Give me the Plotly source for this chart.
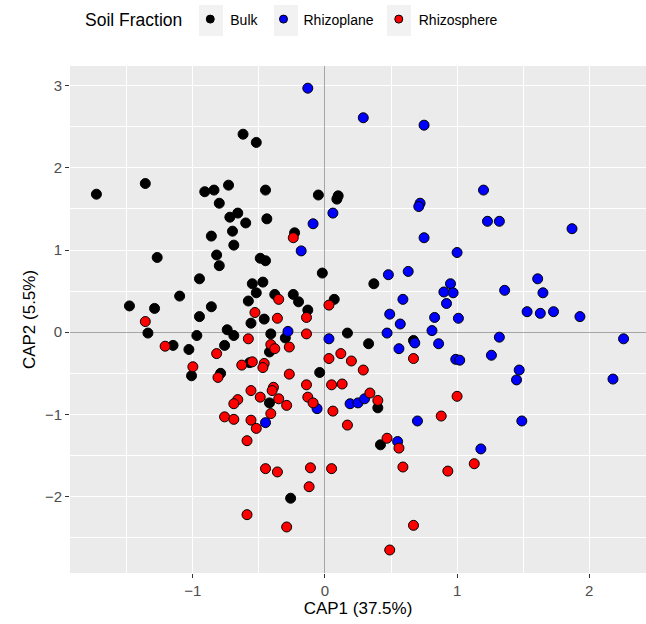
import plotly.graph_objects as go

bulk_x = [-0.62, -0.52, -1.73, -1.36, -0.91, -0.84, -0.73, -0.80, -0.66, -0.72, -0.60, -0.70, -0.86,
          -0.45, -0.05, 0.10, 0.09, -0.44, -0.23, -0.69, -1.27, -0.82, -0.80, -0.95, -0.55, -0.49,
          -0.52, -1.10, -0.58, -1.48, -1.29, -0.86, -0.95, -0.56, -1.34, -0.97, -0.74, -0.69, -1.15,
          -0.76, -1.03, -0.57, -1.01, -0.79, -0.45, -0.02, 0.37, -0.47, -0.38, -0.24, -0.20, 0.07,
          -0.13, -0.46, 0.17, 0.33, 0.67, -0.41, -0.30, -0.42, -0.04, -0.42, 0.40, 0.42, -0.26]
bulk_y = [2.41, 2.31, 1.68, 1.81, 1.71, 1.73, 1.79, 1.57, 1.45, 1.40, 1.33, 1.23, 1.17,
          1.73, 1.67, 1.66, 1.62, 1.38, 1.21, 1.06, 0.91, 0.94, 0.81, 0.65, 0.59, 0.90,
          0.48, 0.44, 0.38, 0.32, 0.29, 0.31, 0.19, 0.11, -0.01, -0.04, 0.03, -0.04, -0.16,
          -0.16, -0.21, -0.37, -0.53, -0.50, 0.87, 0.72, 0.59, 0.61, 0.46, 0.46, 0.37, 0.40,
          0.27, 0.16, -0.01, -0.14, -0.10, -0.02, -0.07, -0.24, -0.49, -0.86, -0.92, -1.37, -2.02]

rhizoplane_x = [-0.13, 0.29, 0.75, 0.72, 0.71, 0.06, -0.09, 0.75, 1.20, 1.23, 1.32, 1.87, -0.18,
                0.48, 0.63, 0.95, 0.90, 0.97, 0.92, 0.59, 0.49, 0.57, 0.83, 0.81, 0.47, 0.68,
                0.86, 0.56, -0.28, 0.03, -0.06, 0.19, 0.25, 0.30, 1.00, 1.61, 1.36, 1.65, 1.53,
                1.63, 1.73, 1.93, 1.01, 1.32, 2.26, 0.99, 1.02, 1.26, 1.47, 1.45, 2.18, -0.45,
                0.70, 0.55, 1.49, 1.18]
rhizoplane_y = [2.97, 2.61, 2.52, 1.57, 1.53, 1.45, 1.32, 1.15, 1.73, 1.35, 1.35, 1.26, 0.99,
                0.70, 0.74, 0.59, 0.49, 0.48, 0.35, 0.40, 0.22, 0.10, 0.18, 0.02, -0.01, -0.13,
                -0.14, -0.20, 0.01, -0.08, -0.93, -0.87, -0.86, -0.81, 0.97, 0.65, 0.51, 0.48, 0.25,
                0.23, 0.25, 0.19, 0.17, -0.06, -0.08, -0.33, -0.34, -0.28, -0.46, -0.58, -0.57, -1.10,
                -1.08, -1.33, -1.08, -1.42]

rhizosphere_x = [-0.24, -0.53, -1.36, -0.58, -1.21, -0.82, -0.63, -0.55, -1.00, -0.81, -0.56, -0.66,
                 -0.69, -0.49, -0.35, 0.03, -0.14, -0.36, 0.67, -0.14, -0.41, -0.38, -0.27, 0.03,
                 0.12, 0.20, 0.29, -0.46, -0.47, -0.27, -0.14, 0.05, 0.13, -0.39, -0.40, -0.35,
                 -0.29, -0.13, -0.09, 0.34, 0.40, 1.00, -0.76, -0.69, -0.56, -0.52, -0.59, -0.59,
                 0.06, -0.41, 0.17, 0.88, 0.47, 0.56, -0.45, -0.36, -0.11, 0.05, 0.59, 0.93,
                 -0.12, -0.29, 0.67, 0.49, 1.13]
rhizosphere_y = [1.15, 0.24, 0.13, -0.08, -0.17, -0.26, -0.40, -0.36, -0.42, -0.55, -0.71, -0.82,
                 -0.87, -0.79, 0.40, 0.33, 0.18, 0.17, -0.32, -0.02, -0.15, -0.20, -0.18, -0.32,
                 -0.26, -0.35, -0.46, -0.38, -0.43, -0.51, -0.64, -0.64, -0.63, -0.67, -0.71, -0.81,
                 -0.89, -0.79, -0.86, -0.74, -0.83, -0.78, -1.03, -1.06, -1.07, -1.17, -1.32, -2.22,
                 -0.96, -0.99, -1.13, -1.02, -1.29, -1.41, -1.66, -1.70, -1.65, -1.66, -1.64, -1.69,
                 -1.88, -2.37, -2.35, -2.65, -1.60]

x_ticks = [-1, 0, 1, 2]
x_tick_labels = ["\u22121", "0", "1", "2"]
y_ticks = [-2, -1, 0, 1, 2, 3]
y_tick_labels = ["\u22122", "\u22121", "0", "1", "2", "3"]

series = [
    ("Bulk", bulk_x, bulk_y, "#000000"),
    ("Rhizoplane", rhizoplane_x, rhizoplane_y, "#0000FF"),
    ("Rhizosphere", rhizosphere_x, rhizosphere_y, "#FF0000"),
]

FONT = "Liberation Sans, Arial, sans-serif"

fig = go.Figure()
for name, xs, ys, col in series:
    fig.add_trace(go.Scatter(
        x=xs, y=ys, mode="markers", name=name, showlegend=False,
        marker=dict(size=10, color=col, line=dict(color="black", width=1)),
    ))
# legend entries with smaller keys (as in the reference legend)
for name, xs, ys, col in series:
    fig.add_trace(go.Scatter(
        x=[None], y=[None], mode="markers", name=name, showlegend=True,
        marker=dict(size=8, color=col, line=dict(color="black", width=1)),
    ))

W, H = 646, 624
L, R, T, B = 70, 0, 66, 51
pw, ph = W - L - R, H - T - B
def px_x(p):  # pixel -> paper x
    return (p - L) / pw
def px_y(p):  # pixel -> paper y
    return (H - B - p) / ph
# legend key backgrounds (ggplot style grey key boxes)
for x0, x1 in [(199, 223), (274, 298), (387, 411)]:
    fig.add_shape(type="rect", xref="paper", yref="paper",
                  x0=px_x(x0), x1=px_x(x1), y0=px_y(36), y1=px_y(5),
                  fillcolor="#F2F2F2", line=dict(width=0), layer="below")

axis_common = dict(
    showgrid=True, gridcolor="white", gridwidth=1.2,
    zeroline=True, zerolinecolor="#A6A6A6", zerolinewidth=1.2,
    ticks="outside", ticklen=4, tickcolor="#333333", tickwidth=1,
    tickfont=dict(family=FONT, size=15, color="#4D4D4D"),
    showline=False, automargin=False,
)

fig.update_layout(
    width=W, height=H,
    margin=dict(l=L, r=R, t=T, b=B, autoexpand=False),
    paper_bgcolor="white", plot_bgcolor="#EBEBEB",
    font=dict(family=FONT, color="black"),
    xaxis=dict(range=[-1.93, 2.43], tickvals=x_ticks, ticktext=x_tick_labels,
               minor=dict(tickvals=[-1.5, -0.5, 0.5, 1.5], showgrid=True, gridcolor="white", gridwidth=0.5),
               title=dict(text="CAP1 (37.5%)", font=dict(family=FONT, size=17, color="black"), standoff=3),
               **axis_common),
    yaxis=dict(range=[-2.93, 3.24], tickvals=y_ticks, ticktext=y_tick_labels,
               minor=dict(tickvals=[-2.5, -1.5, -0.5, 0.5, 1.5, 2.5], showgrid=True, gridcolor="white", gridwidth=0.5),
               title=dict(text="CAP2 (5.5%)", font=dict(family=FONT, size=17, color="black"), standoff=4),
               **axis_common),
    legend=dict(
        orientation="h", x=px_x(83), xanchor="left", y=px_y(20), yanchor="middle",
        title=dict(text="Soil Fraction", font=dict(family=FONT, size=17.5, color="black"), side="left"),
        font=dict(family=FONT, size=14, color="black"),
        bgcolor="rgba(0,0,0,0)", itemwidth=30,
    ),
    showlegend=True,
)

fig.write_html("out.html", config={"displayModeBar": False},
               post_script="document.body.style.margin='0px';document.body.style.overflow='hidden';")
